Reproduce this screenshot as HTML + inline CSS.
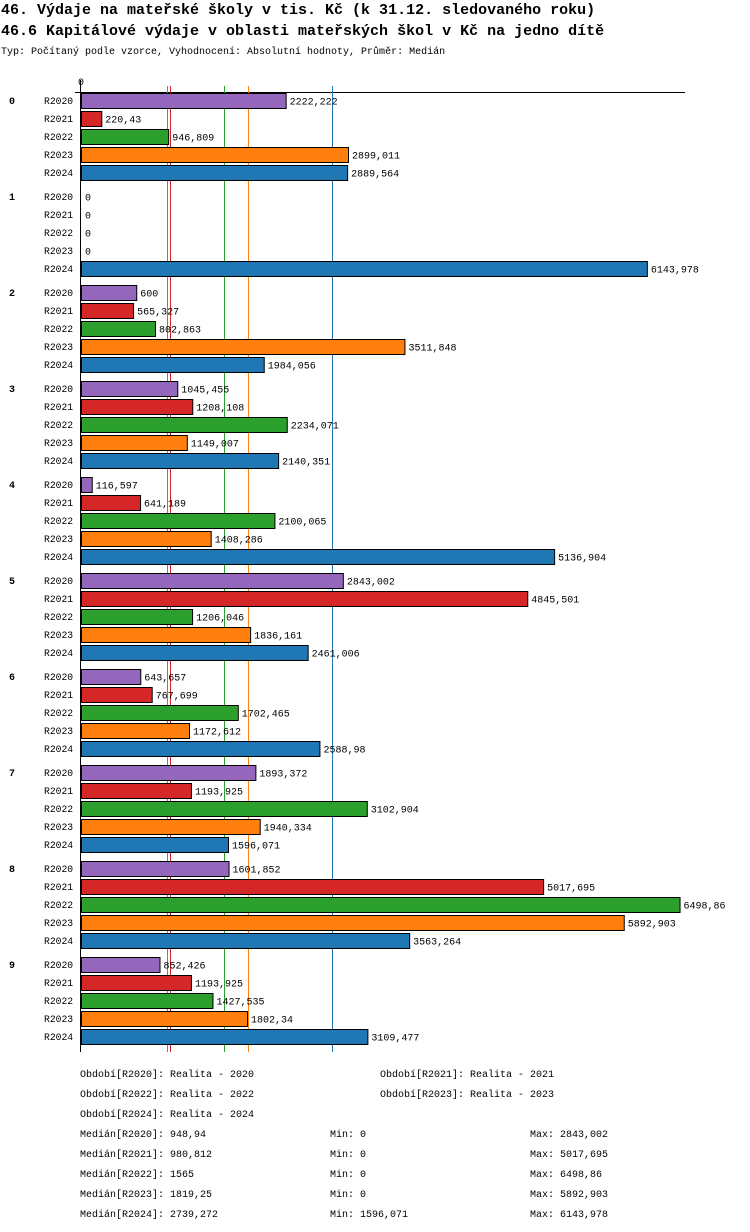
<!DOCTYPE html>
<html><head><meta charset="utf-8"><style>
body{margin:0;background:#fff;width:750px;height:1232px;overflow:hidden}
svg{display:block;font-family:"Liberation Mono","DejaVu Sans Mono",monospace}
</style></head><body>
<svg id="c" width="750" height="1232" xmlns="http://www.w3.org/2000/svg">
<text x="1" y="14" font-size="15" font-weight="bold">46. Výdaje na mateřské školy v tis. Kč (k 31.12. sledovaného roku)</text>
<text x="1" y="35" font-size="15" font-weight="bold">46.6 Kapitálové výdaje v oblasti mateřských škol v Kč na jedno dítě</text>
<text x="1" y="54" font-size="10">Typ: Počítaný podle vzorce, Vyhodnocení: Absolutní hodnoty, Průměr: Medián</text>
<text x="78" y="85" font-size="10">0</text>
<g id="g"></g>
</svg>
<script>
const groups=['0','1','2','3','4','5','6','7','8','9'];
const series=['R2020','R2021','R2022','R2023','R2024'];
const colors=['#9467bd','#d62728','#2ca02c','#ff7f0e','#1f77b4'];
const r2020=[2222.222,0,600,1045.455,116.597,2843.002,643.657,1893.372,1601.852,852.426];
const r2021=[220.43,0,565.327,1208.108,641.189,4845.501,767.699,1193.925,5017.695,1193.925];
const r2022=[946.809,0,802.863,2234.071,2100.065,1206.046,1702.465,3102.904,6498.86,1427.535];
const r2023=[2899.011,0,3511.848,1149.007,1408.286,1836.161,1172.612,1940.334,5892.903,1802.34];
const r2024=[2889.564,6143.978,1984.056,2140.351,5136.904,2461.006,2588.98,1596.071,3563.264,3109.477];
const labels2020=['2222,222','0','600','1045,455','116,597','2843,002','643,657','1893,372','1601,852','852,426'];
const labels2021=['220,43','0','565,327','1208,108','641,189','4845,501','767,699','1193,925','5017,695','1193,925'];
const labels2022=['946,809','0','802,863','2234,071','2100,065','1206,046','1702,465','3102,904','6498,86','1427,535'];
const labels2023=['2899,011','0','3511,848','1149,007','1408,286','1836,161','1172,612','1940,334','5892,903','1802,34'];
const labels2024=['2889,564','6143,978','1984,056','2140,351','5136,904','2461,006','2588,98','1596,071','3563,264','3109,477'];
const medians=[948.94,980.812,1565,1819.25,2739.272];
const x0=81,scale=0.0921;
const x=v=>x0+v*scale;
const rowY=(g,s)=>92+g*96+s*18;
const vals=[r2020,r2021,r2022,r2023,r2024];
const labs=[labels2020,labels2021,labels2022,labels2023,labels2024];
const NS='http://www.w3.org/2000/svg';
const G=document.getElementById('g');
function mk(t,a,txt){const e=document.createElementNS(NS,t);for(const k in a)e.setAttribute(k,a[k]);if(txt!==undefined)e.textContent=txt;G.appendChild(e);return e;}
let e=mk('line',{x1:75,y1:92.5,x2:685,y2:92.5,stroke:'#000'});


e=mk('line',{x1:80.5,y1:80,x2:80.5,y2:1052,stroke:'#000'});


medians.forEach((m,i)=>{
 const l=mk('line',{x1:Math.round(x(m))-0.5,y1:86,x2:Math.round(x(m))-0.5,y2:1052,stroke:colors[i],'stroke-width':1});
 
 
});
groups.forEach((g,gi)=>{
 const t=mk('text',{x:9,y:rowY(gi,0)+12,'font-size':10,'font-weight':'bold'},g);
 
 
 series.forEach((s,si)=>{
  const y=rowY(gi,si);
  const sl=mk('text',{x:44,y:y+12,'font-size':9.7},s);
  
  
  const v=vals[si][gi];
  if(v>0){
   const r=mk('rect',{x:x0+0.5,y:y+1.5,width:x(v)-x0,height:15,fill:colors[si],stroke:'#000'});
   
   
  }
  const vl=mk('text',{x:x(v)+4,y:y+12.5,'font-size':10},labs[si][gi]);
  
  
 });
});
const foot=[[80,1077,'Období[R2020]: Realita - 2020'],[380,1077,'Období[R2021]: Realita - 2021'],[80,1097,'Období[R2022]: Realita - 2022'],[380,1097,'Období[R2023]: Realita - 2023'],[80,1117,'Období[R2024]: Realita - 2024'],
[80,1137,'Medián[R2020]: 948,94'],[330,1137,'Min: 0'],[530,1137,'Max: 2843,002'],
[80,1157,'Medián[R2021]: 980,812'],[330,1157,'Min: 0'],[530,1157,'Max: 5017,695'],
[80,1177,'Medián[R2022]: 1565'],[330,1177,'Min: 0'],[530,1177,'Max: 6498,86'],
[80,1197,'Medián[R2023]: 1819,25'],[330,1197,'Min: 0'],[530,1197,'Max: 5892,903'],
[80,1217,'Medián[R2024]: 2739,272'],[330,1217,'Min: 1596,071'],[530,1217,'Max: 6143,978']];
foot.forEach(f=>{
 const t=mk('text',{x:f[0],y:f[1],'font-size':10},f[2]);
 
 
});
</script>
</body></html>
